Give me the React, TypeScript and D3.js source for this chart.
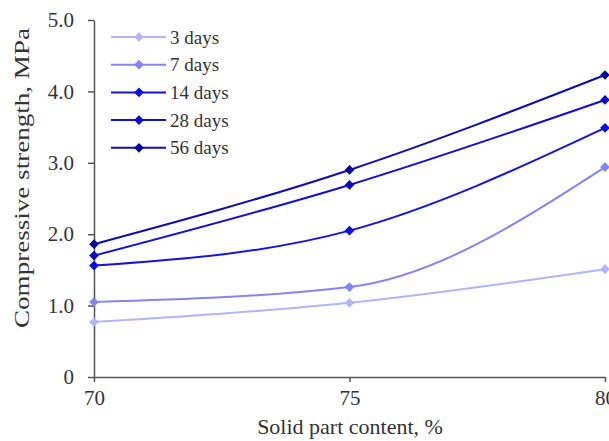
import { useEffect, useRef } from 'react';
import * as d3 from 'd3';

const solidContent = [70, 75, 80];
const seriesNames = ['3 days', '7 days', '14 days', '28 days', '56 days'];
const days3 = [0.77, 1.04, 1.51];
const days7 = [1.05, 1.26, 2.94];
const days14 = [1.56, 2.05, 3.49];
const days28 = [1.7, 2.69, 3.88];
const days56 = [1.86, 2.9, 4.23];
const yTicks = [0, 1, 2, 3, 4, 5];

const colors = ['#b4b4fa', '#8484f6', '#0a0af0', '#0808cc', '#04049c'];
const lineColors = ['#b4b4fa', '#8484f6', '#1414e0', '#1010d0', '#0c0cb0'];

const App = () => {
  const svgRef = useRef<SVGSVGElement>(null);

  useEffect(() => {
    const svg = d3.select(svgRef.current);
    svg.selectAll('*').remove();
    const width = 609;
    const height = 441;
    const margin = { top: 20, right: 4, bottom: 64, left: 94 };
    const font = '"Liberation Serif", "Times New Roman", serif';

    const x = d3
      .scaleLinear()
      .domain([70, 80])
      .range([margin.left, width - margin.right]);
    const y = d3
      .scaleLinear()
      .domain([0, 5])
      .range([height - margin.bottom, margin.top]);

    const allSeries = [days3, days7, days14, days28, days56];

    // axes
    const yAxis = svg
      .append('g')
      .attr('transform', `translate(${margin.left},0)`)
      .call(
        d3
          .axisLeft(y)
          .tickValues(yTicks)
          .tickSize(6)
          .tickSizeOuter(0)
          .tickPadding(14)
          .tickFormat((d) => (d === 0 ? '0' : d3.format('.1f')(d as number)))
      );
    yAxis.selectAll('path, line').attr('stroke', '#555').attr('stroke-width', 1.5);
    yAxis.selectAll('text').style('font-family', font).style('font-size', '21px').attr('fill', '#333');

    const xAxis = svg
      .append('g')
      .attr('transform', `translate(0,${height - margin.bottom})`)
      .call(
        d3
          .axisBottom(x)
          .tickValues(solidContent)
          .tickSize(5)
          .tickSizeOuter(0)
          .tickPadding(8)
          .tickFormat(d3.format('d'))
      );
    xAxis.selectAll('path, line').attr('stroke', '#555').attr('stroke-width', 1.5);
    xAxis.selectAll('text').style('font-family', font).style('font-size', '21px').attr('fill', '#333');

    // axis titles
    svg
      .append('text')
      .attr('transform', 'translate(29,178) rotate(-90)')
      .attr('text-anchor', 'middle')
      .attr('textLength', 300)
      .attr('lengthAdjust', 'spacingAndGlyphs')
      .style('font-family', font)
      .style('font-size', '22px')
      .attr('fill', '#333')
      .text('Compressive strength, MPa');

    svg
      .append('text')
      .attr('x', 350)
      .attr('y', 434)
      .attr('text-anchor', 'middle')
      .style('font-family', font)
      .style('font-size', '22px')
      .attr('fill', '#333')
      .text('Solid part content, %');

    const line = d3
      .line<number>()
      .x((_, i) => x(solidContent[i]))
      .y((d) => y(d))
      .curve(d3.curveMonotoneX);

    const diamond = d3.symbol().type(d3.symbolDiamond2).size(60);

    allSeries.forEach((values, s) => {
      svg
        .append('path')
        .datum(values)
        .attr('d', line)
        .attr('fill', 'none')
        .attr('stroke', lineColors[s])
        .attr('stroke-width', 2);
      svg
        .selectAll(`.m${s}`)
        .data(values)
        .enter()
        .append('path')
        .attr('class', `m${s}`)
        .attr('d', diamond)
        .attr('transform', (d, i) => `translate(${x(solidContent[i])},${y(d)})`)
        .attr('fill', colors[s]);
    });

    // legend
    const legend = svg.append('g').attr('transform', 'translate(111,37)');
    seriesNames.forEach((name, s) => {
      const g = legend.append('g').attr('transform', `translate(0,${s * 27.7})`);
      g.append('line').attr('x1', 0).attr('x2', 55).attr('stroke', lineColors[s]).attr('stroke-width', 2);
      g.append('path').attr('d', diamond).attr('transform', 'translate(28,0)').attr('fill', colors[s]);
      g.append('text')
        .attr('x', 59)
        .attr('dy', '0.35em')
        .style('font-family', font)
        .style('font-size', '19px')
        .attr('fill', '#333')
        .text(name);
    });
  }, []);

  return (
    <svg
      ref={svgRef}
      width="609"
      height="441"
      style={{ position: 'absolute', top: 0, left: 0, background: '#fff' }}
    ></svg>
  );
};

export default App;
